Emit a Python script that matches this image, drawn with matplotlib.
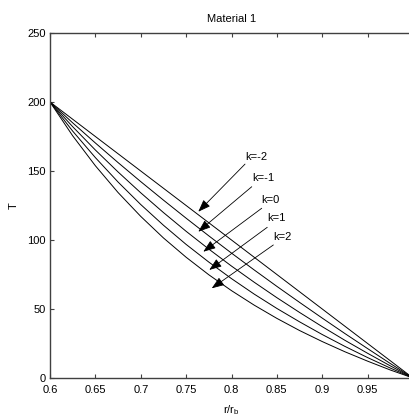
import matplotlib
matplotlib.use("Agg")
import matplotlib.pyplot as plt

plt.rcParams['font.family'] = ['Liberation Sans', 'DejaVu Sans']
plt.rcParams['mathtext.fontset'] = 'custom'
plt.rcParams['mathtext.rm'] = 'Liberation Sans'

# r/rb samples and temperature for each k
r = [0.6, 0.625, 0.65, 0.675, 0.7, 0.725, 0.75, 0.775, 0.8,
     0.825, 0.85, 0.875, 0.9, 0.925, 0.95, 0.975, 1.0]
T_km2 = [200.0, 187.5, 175.0, 162.5, 150.0, 137.5, 125.0, 112.5, 100.0,
         87.5, 75.0, 62.5, 50.0, 37.5, 25.0, 12.5, 0.0]
T_km1 = [200.0, 184.9, 170.3, 156.1, 142.3, 128.9, 115.8, 103.0, 90.5,
         78.3, 66.4, 54.8, 43.4, 32.2, 21.3, 10.5, 0.0]
T_k0 = [200.0, 182.1, 165.2, 149.3, 134.2, 119.9, 106.3, 93.4, 81.1,
        69.4, 58.2, 47.5, 37.2, 27.3, 17.9, 8.8, 0.0]
T_k1 = [200.0, 178.9, 159.7, 142.0, 125.7, 110.7, 96.8, 84.0, 72.0,
        60.8, 50.4, 40.7, 31.5, 22.9, 14.8, 7.2, 0.0]
T_k2 = [200.0, 175.5, 153.8, 134.4, 117.1, 101.5, 87.5, 74.8, 63.3,
        52.8, 43.2, 34.4, 26.4, 19.0, 12.2, 5.8, 0.0]

labels = ['k=-2', 'k=-1', 'k=0', 'k=1', 'k=2']
# arrow tip, arrow tail, text position
tips = [(0.7634, 120.5), (0.7634, 106.0), (0.7689, 91.5), (0.7755, 78.3), (0.7782, 65.0)]
tails = [(0.8149, 155.0), (0.8223, 138.6), (0.8333, 123.0), (0.8394, 109.2), (0.8461, 96.4)]
text_pos = [(0.8154, 160.4), (0.8231, 144.7), (0.8330, 129.0), (0.8395, 115.7), (0.8461, 102.4)]

xticks = [0.6, 0.65, 0.7, 0.75, 0.8, 0.85, 0.9, 0.95]
xticklabels = ['0.6', '0.65', '0.7', '0.75', '0.8', '0.85', '0.9', '0.95']
yticks = [0, 50, 100, 150, 200, 250]

fig = plt.figure(figsize=(4.1, 4.19), dpi=100)
ax = fig.add_axes([50/410, 41/419, 363/410, 345/419])

for T in [T_km2, T_km1, T_k0, T_k1, T_k2]:
    ax.plot(r, T, color='k', lw=0.7)

for lab, tip, tail, tp in zip(labels, tips, tails, text_pos):
    ax.annotate('', xy=tip, xytext=tail,
                arrowprops=dict(arrowstyle='-|>,head_length=0.75,head_width=0.28',
                                color='k', lw=0.6, shrinkA=0, shrinkB=0))
    ax.text(tp[0], tp[1], lab, ha='left', va='center', fontsize=8)

ax.set_xlim(0.6, 1.0)
ax.set_ylim(0, 250)
ax.set_xticks(xticks)
ax.set_xticklabels(xticklabels)
ax.set_yticks(yticks)
ax.tick_params(direction='in', length=3, width=0.8, color='#404040',
               top=True, right=False, labelsize=8, pad=3)
ax.tick_params(axis='x', pad=5)
for s in ax.spines.values():
    s.set_color('#404040')
    s.set_linewidth(1.0)

ax.set_title('Material 1', fontsize=8, pad=8)
ax.set_xlabel(r'r/r$_\mathrm{b}$', fontsize=8, labelpad=6)
ax.set_ylabel('T', fontsize=8, labelpad=6)

fig.savefig('out.png', dpi=100)
